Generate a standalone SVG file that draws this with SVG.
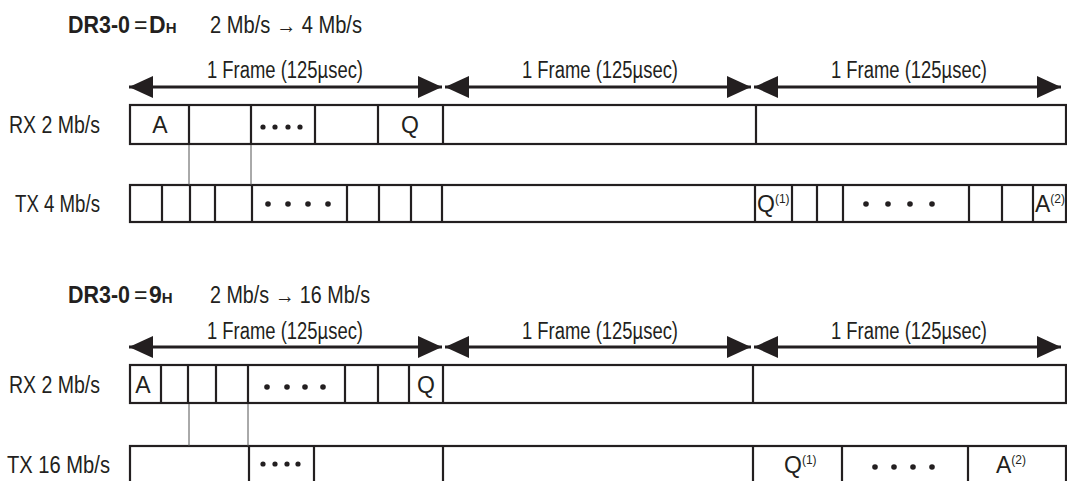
<svg xmlns="http://www.w3.org/2000/svg" width="1067" height="481" viewBox="0 0 1067 481">
<style>
text{font-family:"Liberation Sans Narrow","Liberation Sans",Arial,sans-serif;fill:#231f20;font-size:23px}
.b{font-weight:bold}
.sup{font-size:12px}
.box{fill:none;stroke:#231f20;stroke-width:2.2}
.div{stroke:#231f20;stroke-width:2.2}
.thin{stroke:#555;stroke-width:1}
.arr{stroke:#231f20;stroke-width:3;marker-start:url(#ah);marker-end:url(#ah)}
.dot{fill:#231f20}
</style>
<defs>
<marker id="ah" markerUnits="userSpaceOnUse" markerWidth="24" markerHeight="22" refX="24" refY="11" orient="auto-start-reverse" viewBox="0 0 24 22">
<path d="M0,0 L24,11 L0,22 z" fill="#231f20"/>
</marker>
</defs>
<rect width="1067" height="481" fill="#fff"/>

<g id="title-top">
<text x="68" y="33" class="b" textLength="62" lengthAdjust="spacingAndGlyphs">DR3-0</text>
<text x="134" y="33">=</text>
<text x="149" y="33" class="b">D<tspan font-size="15">H</tspan></text>
<text x="210" y="33" textLength="152" lengthAdjust="spacingAndGlyphs">2 Mb/s → 4 Mb/s</text>
</g>

<g id="frame-labels-top">
<text x="285" y="78" text-anchor="middle" textLength="156" lengthAdjust="spacingAndGlyphs">1 Frame (125µsec)</text>
<text x="600" y="78" text-anchor="middle" textLength="156" lengthAdjust="spacingAndGlyphs">1 Frame (125µsec)</text>
<text x="909" y="78" text-anchor="middle" textLength="156" lengthAdjust="spacingAndGlyphs">1 Frame (125µsec)</text>
</g>

<g id="rx-top">
<text x="9" y="133" textLength="91" lengthAdjust="spacingAndGlyphs">RX 2 Mb/s</text>
<rect class="box" x="130" y="105" width="936" height="39"/>
<path class="div" d="M189,105V144M251,105V144M315,105V144M378,105V144M443,105V144M756,105V144"/>
<text x="160" y="133" text-anchor="middle">A</text>
<text x="410" y="133" text-anchor="middle">Q</text>
<circle class="dot" cx="263" cy="127" r="2.6"/><circle class="dot" cx="275" cy="127" r="2.6"/><circle class="dot" cx="288" cy="127" r="2.6"/><circle class="dot" cx="300" cy="127" r="2.6"/>
</g>

<g id="tx-top">
<text x="15" y="212" textLength="85" lengthAdjust="spacingAndGlyphs">TX 4 Mb/s</text>
<rect class="box" x="130" y="185" width="936" height="37"/>
<path class="div" d="M162,185V222M190,185V222M215,185V222M252,185V222M347,185V222M379,185V222M411,185V222M442,185V222M755,185V222M792,185V222M817,185V222M843,185V222M969,185V222M1002,185V222M1033,185V222"/>
<circle class="dot" cx="268" cy="204" r="2.8"/><circle class="dot" cx="288" cy="204" r="2.8"/><circle class="dot" cx="308" cy="204" r="2.8"/><circle class="dot" cx="328" cy="204" r="2.8"/>
<circle class="dot" cx="866" cy="204" r="2.8"/><circle class="dot" cx="888" cy="204" r="2.8"/><circle class="dot" cx="910" cy="204" r="2.8"/><circle class="dot" cx="932" cy="204" r="2.8"/>
<text x="757" y="212">Q<tspan class="sup" dy="-9">(1)</tspan></text>
<text x="1035" y="212">A<tspan class="sup" dy="-9">(2)</tspan></text>
</g>

<g id="title-bottom">
<text x="68" y="303" class="b" textLength="62" lengthAdjust="spacingAndGlyphs">DR3-0</text>
<text x="134" y="303">=</text>
<text x="149" y="303" class="b">9<tspan font-size="15">H</tspan></text>
<text x="210" y="303" textLength="160" lengthAdjust="spacingAndGlyphs">2 Mb/s → 16 Mb/s</text>
</g>

<g id="frame-labels-bottom">
<text x="285" y="339" text-anchor="middle" textLength="156" lengthAdjust="spacingAndGlyphs">1 Frame (125µsec)</text>
<text x="600" y="339" text-anchor="middle" textLength="156" lengthAdjust="spacingAndGlyphs">1 Frame (125µsec)</text>
<text x="909" y="339" text-anchor="middle" textLength="156" lengthAdjust="spacingAndGlyphs">1 Frame (125µsec)</text>
</g>

<g id="rx-bottom">
<text x="9" y="393" textLength="91" lengthAdjust="spacingAndGlyphs">RX 2 Mb/s</text>
<rect class="box" x="130" y="365" width="936" height="38"/>
<path class="div" d="M161,365V403M188,365V403M216,365V403M248,365V403M345,365V403M378,365V403M409,365V403M443,365V403M753,365V403"/>
<text x="143" y="393" text-anchor="middle">A</text>
<text x="426" y="393" text-anchor="middle">Q</text>
<circle class="dot" cx="267" cy="387" r="2.8"/><circle class="dot" cx="287" cy="387" r="2.8"/><circle class="dot" cx="305" cy="387" r="2.8"/><circle class="dot" cx="323" cy="387" r="2.8"/>
</g>

<g id="tx-bottom">
<text x="7" y="473" textLength="103" lengthAdjust="spacingAndGlyphs">TX 16 Mb/s</text>
<rect class="box" x="130" y="446" width="936" height="60"/>
<path class="div" d="M249,446V481M314,446V481M443,446V481M753,446V481M842,446V481M968,446V481"/>
<circle class="dot" cx="263" cy="464" r="2.6"/><circle class="dot" cx="275" cy="464" r="2.6"/><circle class="dot" cx="287" cy="464" r="2.6"/><circle class="dot" cx="298" cy="464" r="2.6"/>
<circle class="dot" cx="875" cy="467" r="2.8"/><circle class="dot" cx="894" cy="467" r="2.8"/><circle class="dot" cx="913" cy="467" r="2.8"/><circle class="dot" cx="932" cy="467" r="2.8"/>
<text x="784" y="473">Q<tspan class="sup" dy="-9">(1)</tspan></text>
<text x="996" y="473">A<tspan class="sup" dy="-9">(2)</tspan></text>
</g>

<g id="connectors">
<line class="arr" x1="129" y1="87" x2="442" y2="87"/>
<line class="arr" x1="445" y1="87" x2="751" y2="87"/>
<line class="arr" x1="754" y1="87" x2="1061" y2="87"/>
<line class="arr" x1="129" y1="347" x2="442" y2="347"/>
<line class="arr" x1="445" y1="347" x2="751" y2="347"/>
<line class="arr" x1="754" y1="347" x2="1061" y2="347"/>
<line class="thin" x1="189" y1="145" x2="189" y2="185"/>
<line class="thin" x1="251" y1="145" x2="251" y2="185"/>
<line class="thin" x1="189" y1="404" x2="189" y2="446"/>
<line class="thin" x1="248" y1="404" x2="248" y2="446"/>
</g>
</svg>
